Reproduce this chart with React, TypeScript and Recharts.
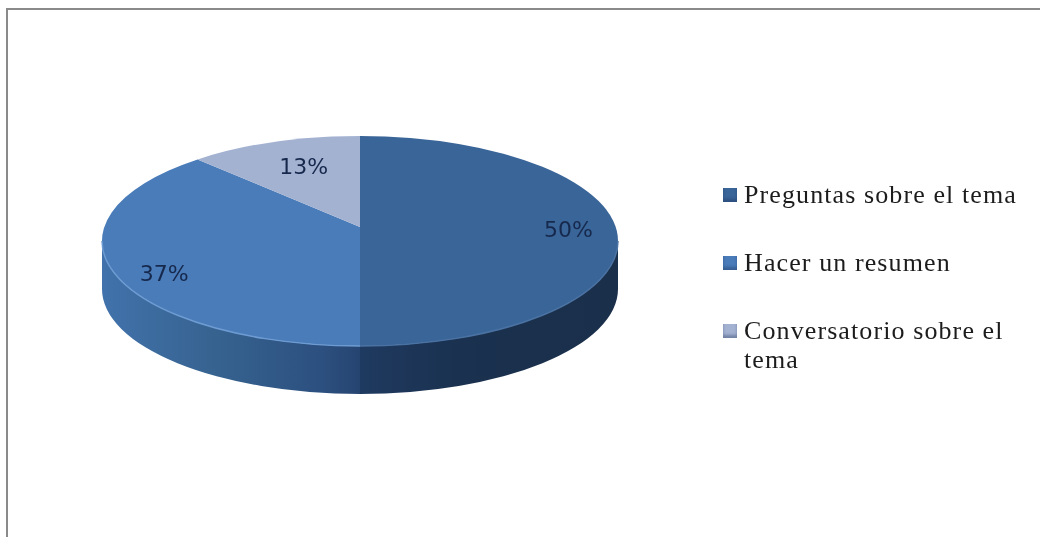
import { PieChart, Pie, Legend } from 'recharts'

const names = ['Preguntas sobre el tema', 'Hacer un resumen', 'Conversatorio sobre el tema']
const values = [50, 37, 13]
const fills = ['#3a6598', '#4a7cb9', '#a4b2d2']

const data = names.map((name, i) => ({ name, value: values[i], fill: fills[i] }))

const CX = 360
const CY = 241
const RX = 258
const RY = 105
const DEPTH = 48
const HUB_Y = CY - 14 // the hub sits behind the ellipse centre because of the perspective

// recharts angle -> clockwise angle from 12 o'clock, squeezed a little like the 3d view does
function viewAngle(angle: number): number {
  const t = ((90 - angle) * Math.PI) / 180
  return t - ((7.8 * Math.PI) / 180) * Math.sin(2 * t)
}

function rim(t: number, dy = 0) {
  return { x: CX + RX * Math.sin(t), y: CY - RY * Math.cos(t) + dy }
}

function Slice(props: any) {
  const a = viewAngle(props.startAngle)
  const b = viewAngle(props.endAngle)
  const p0 = rim(a)
  const p1 = rim(b)
  const large = b - a > Math.PI ? 1 : 0
  const top = `M${CX},${HUB_Y} L${p0.x},${p0.y} A${RX},${RY} 0 ${large} 1 ${p1.x},${p1.y} Z`

  // wall only shows on the front half of the disc
  const wa = Math.max(a, Math.PI / 2)
  const wb = Math.min(b, (3 * Math.PI) / 2)
  let wall = ''
  let edge = ''
  if (wb > wa) {
    const w0 = rim(wa)
    const w1 = rim(wb)
    const w2 = rim(wb, DEPTH)
    const w3 = rim(wa, DEPTH)
    wall =
      `M${w0.x},${w0.y} A${RX},${RY} 0 0 1 ${w1.x},${w1.y} L${w2.x},${w2.y} ` +
      `A${RX},${RY} 0 0 0 ${w3.x},${w3.y} Z`
    edge = `M${w0.x},${w0.y} A${RX},${RY} 0 0 1 ${w1.x},${w1.y}`
  }
  const isRight = a < Math.PI / 2 + 0.01
  return (
    <g>
      {wall && <path d={wall} fill={isRight ? 'url(#wallRight)' : 'url(#wallLeft)'} />}
      <path d={top} fill={props.fill} />
      {edge && <path d={edge} fill="none" stroke={isRight ? '#4a72a2' : '#6d9bd2'} strokeWidth={1.5} />}
    </g>
  )
}

function renderLabel(props: any) {
  const t = viewAngle(props.midAngle)
  const p = rim(t)
  const f = 0.82
  let x = CX + (p.x - CX) * f
  let y = HUB_Y + (p.y - HUB_Y) * f
  // small hand nudges so the text sits where the original has it
  if (props.index === 0) {
    x -= 3
    y -= 9
  }
  if (props.index === 1) {
    x -= 11
    y -= 7
  }
  if (props.index === 2) {
    x += 8
    y += 10
  }
  return (
    <text
      x={x}
      y={y}
      textAnchor="middle"
      dominantBaseline="central"
      fill="#16294d"
      fontFamily="'DejaVu Sans', sans-serif"
      fontSize={22}
    >
      {`${props.value}%`}
    </text>
  )
}

function LegendList({ payload }: any) {
  return (
    <div style={{ fontFamily: "'Liberation Serif', serif", fontSize: 26, letterSpacing: 1.1, color: '#1c1c1c', lineHeight: '29px' }}>
      {(payload || []).map((item: any, i: number) => (
        <div key={item.value} style={{ display: 'flex', marginBottom: i === 2 ? 0 : 39 }}>
          <span
            style={{
              flex: 'none',
              width: 14,
              height: 14,
              marginTop: 8,
              marginRight: 7,
              background: item.color,
              boxShadow: 'inset 0 -3px 3px rgba(20,40,80,0.35)',
            }}
          />
          <span>{item.value}</span>
        </div>
      ))}
    </div>
  )
}

export default function App() {
  return (
    <div style={{ position: 'absolute', left: 0, top: 0, width: 1040, height: 537, background: '#fff', overflow: 'hidden' }}>
      <div
        style={{
          position: 'absolute',
          left: 6,
          top: 8,
          width: 1040,
          height: 540,
          borderTop: '2px solid #8a8a8a',
          borderLeft: '2px solid #8a8a8a',
        }}
      />
      <div style={{ position: 'absolute', left: 0, top: 0, filter: 'blur(0.6px)' }}>
        <PieChart width={1040} height={537}>
          <defs>
            <linearGradient id="wallLeft" gradientUnits="userSpaceOnUse" x1={102} y1={0} x2={360} y2={0}>
              <stop offset="0%" stopColor="#4172ab" />
              <stop offset="45%" stopColor="#36628f" />
              <stop offset="85%" stopColor="#2c5080" />
              <stop offset="100%" stopColor="#264470" />
            </linearGradient>
            <linearGradient id="wallRight" gradientUnits="userSpaceOnUse" x1={360} y1={0} x2={617} y2={0}>
              <stop offset="0%" stopColor="#1f3a60" />
              <stop offset="40%" stopColor="#1a314f" />
              <stop offset="100%" stopColor="#1a2f4a" />
            </linearGradient>
          </defs>
          <Pie
            data={data}
            dataKey="value"
            nameKey="name"
            cx={CX}
            cy={CY}
            outerRadius={RX}
            startAngle={90}
            endAngle={-270}
            stroke="none"
            label={renderLabel}
            labelLine={false}
            shape={Slice}
            isAnimationActive={false}
          />
          <Legend
            content={LegendList}
            itemSorter={null}
            wrapperStyle={{ position: 'absolute', left: 723, top: 180, width: 305, right: 'auto', bottom: 'auto' }}
          />
        </PieChart>
      </div>
    </div>
  )
}
